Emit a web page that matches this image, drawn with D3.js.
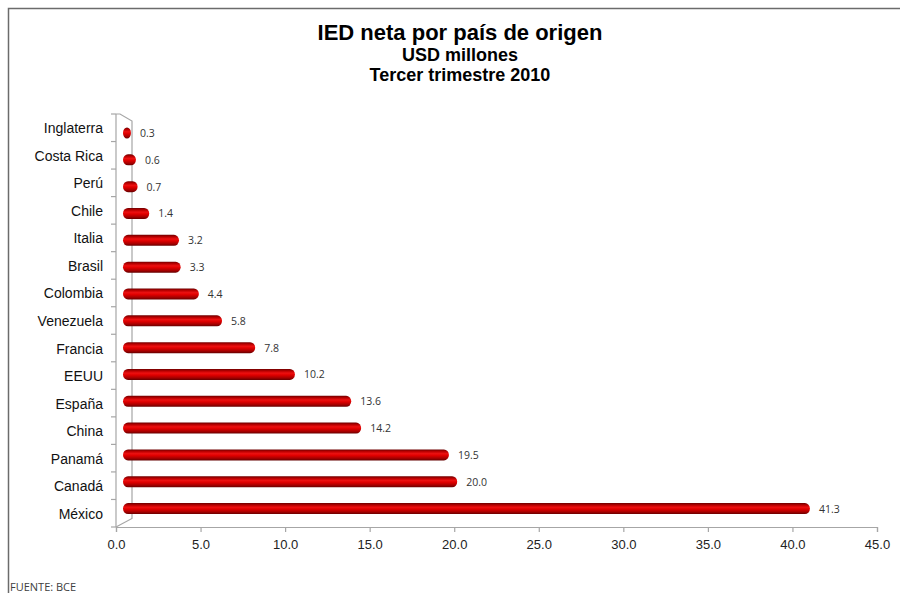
<!DOCTYPE html>
<html>
<head>
<meta charset="utf-8">
<script src="https://cdn.jsdelivr.net/npm/d3@7"></script>
<style>
  body { margin: 0; background: #fff; }
  svg { display: block; }
</style>
</head>
<body>
<div class="render"></div>
<script>
'use strict';

var paises = ['Inglaterra', 'Costa Rica', 'Perú', 'Chile', 'Italia', 'Brasil', 'Colombia', 'Venezuela',
   'Francia', 'EEUU', 'España', 'China', 'Panamá', 'Canadá', 'México'];
var valores = [0.3, 0.6, 0.7, 1.4, 3.2, 3.3, 4.4, 5.8, 7.8, 10.2, 13.6, 14.2, 19.5, 20.0, 41.3];
var ticksX = [0, 5, 10, 15, 20, 25, 30, 35, 40, 45];
var titulos = ['IED neta por país de origen', 'USD millones', 'Tercer trimestre 2010'];
var fuente = 'FUENTE: BCE';

var w = 900, h = 593;
var svg = d3.select('.render').append('svg').attr('width', w).attr('height', h);

// marco
svg.append('rect').attr('x', 8.5).attr('y', 8.5).attr('width', 1000).attr('height', 1000)
   .attr('fill', 'none').attr('stroke', '#6b6b6b').attr('stroke-width', 1.5);

// titulos
var tsizes = [22, 18, 18], tys = [40, 61, 81];
titulos.forEach(function (t, i) {
   svg.append('text').text(t).attr('x', 460).attr('y', tys[i]).attr('text-anchor', 'middle')
      .style('font-family', 'Liberation Sans, Arial, sans-serif').style('font-weight', 'bold')
      .style('font-size', tsizes[i] + 'px').attr('fill', '#000');
});

// escalas: eje frontal y plano de las barras
var xScale = d3.scaleLinear().domain([0, 45]).range([116, 877]);
var xBar = xScale.copy().range([126, 126 + 45 * 16.56]);
var yFront = d3.scaleBand().domain(paises).range([114, 527]);
var yBar = d3.scaleBand().domain(paises).range([119.6, 522]);

var gris = '#a6a6a6';

// paredes 3d
svg.append('path').attr('d', 'M116,114 L120,114 L132,121 L132,518.5 L116,527')
   .attr('fill', 'none').attr('stroke', gris).attr('stroke-width', 1.2);

// eje y
var yAxis = d3.axisLeft(yFront).tickSize(0).tickPadding(13);
var gy = svg.append('g').attr('transform', 'translate(116,1)').call(yAxis);
gy.select('.domain').remove();
gy.selectAll('text').style('font-family', 'Liberation Sans, Arial, sans-serif').style('font-size', '14px').attr('fill', '#111');
svg.append('line').attr('x1', 116).attr('x2', 116).attr('y1', 114).attr('y2', 527).attr('stroke', gris).attr('stroke-width', 1.2);
svg.selectAll('.ytick').data(paises.concat(['_fin'])).enter().append('line').attr('class', 'ytick')
   .attr('x1', 111).attr('x2', 116)
   .attr('y1', function (d, i) { return i < paises.length ? yFront(d) : yFront.range()[1]; })
   .attr('y2', function (d, i) { return i < paises.length ? yFront(d) : yFront.range()[1]; })
   .attr('stroke', gris).attr('stroke-width', 1.2);

// eje x
var xAxis = d3.axisBottom(xScale).tickValues(ticksX).tickFormat(d3.format('.1f')).tickSize(5).tickPadding(8);
var gx = svg.append('g').attr('transform', 'translate(0,527)').call(xAxis);
gx.select('.domain').attr('stroke', gris).attr('stroke-width', 1.2);
gx.selectAll('line').attr('stroke', gris).attr('stroke-width', 1.2);
gx.selectAll('text').style('font-family', 'Liberation Sans, Arial, sans-serif').style('font-size', '13px').attr('fill', '#222');

// gradiente cilindro
var grad = svg.append('defs').append('linearGradient').attr('id', 'cil').attr('x1', 0).attr('y1', 0).attr('x2', 0).attr('y2', 1);
[[0, '#6e0000'], [0.18, '#b80000'], [0.38, '#ec1010'], [0.55, '#e00000'], [0.8, '#a80000'], [1, '#650000']].forEach(function (s) {
   grad.append('stop').attr('offset', s[0]).attr('stop-color', s[1]);
});

var bh = 11;
var datos = paises.map(function (p, i) { return [p, valores[i]]; });

svg.selectAll('rect.bar').data(datos).enter().append('rect').attr('class', 'bar')
   .attr('x', xBar(0) - 3)
   .attr('y', function (d) { return yBar(d[0]) + yBar.bandwidth() / 2 - bh / 2; })
   .attr('width', function (d) { return xBar(d[1]) - xBar(0) + 3; })
   .attr('height', bh)
   .attr('rx', 5).attr('ry', 5.5)
   .attr('fill', 'url(#cil)');

// etiquetas de valor
svg.selectAll('text.val').data(datos).enter().append('text').attr('class', 'val')
   .text(function (d) { return d[1].toFixed(1); })
   .attr('x', function (d) { return xBar(d[1]) + 9; })
   .attr('y', function (d) { return yBar(d[0]) + yBar.bandwidth() / 2 + 4; })
   .style('font-family', 'Open Sans, sans-serif').style('font-size', '10.5px').attr('fill', '#333');

// fuente
svg.append('text').text(fuente).attr('x', 10).attr('y', 591)
   .style('font-family', 'Open Sans, sans-serif').style('font-size', '11px').attr('fill', '#404040');
</script>
</body>
</html>
